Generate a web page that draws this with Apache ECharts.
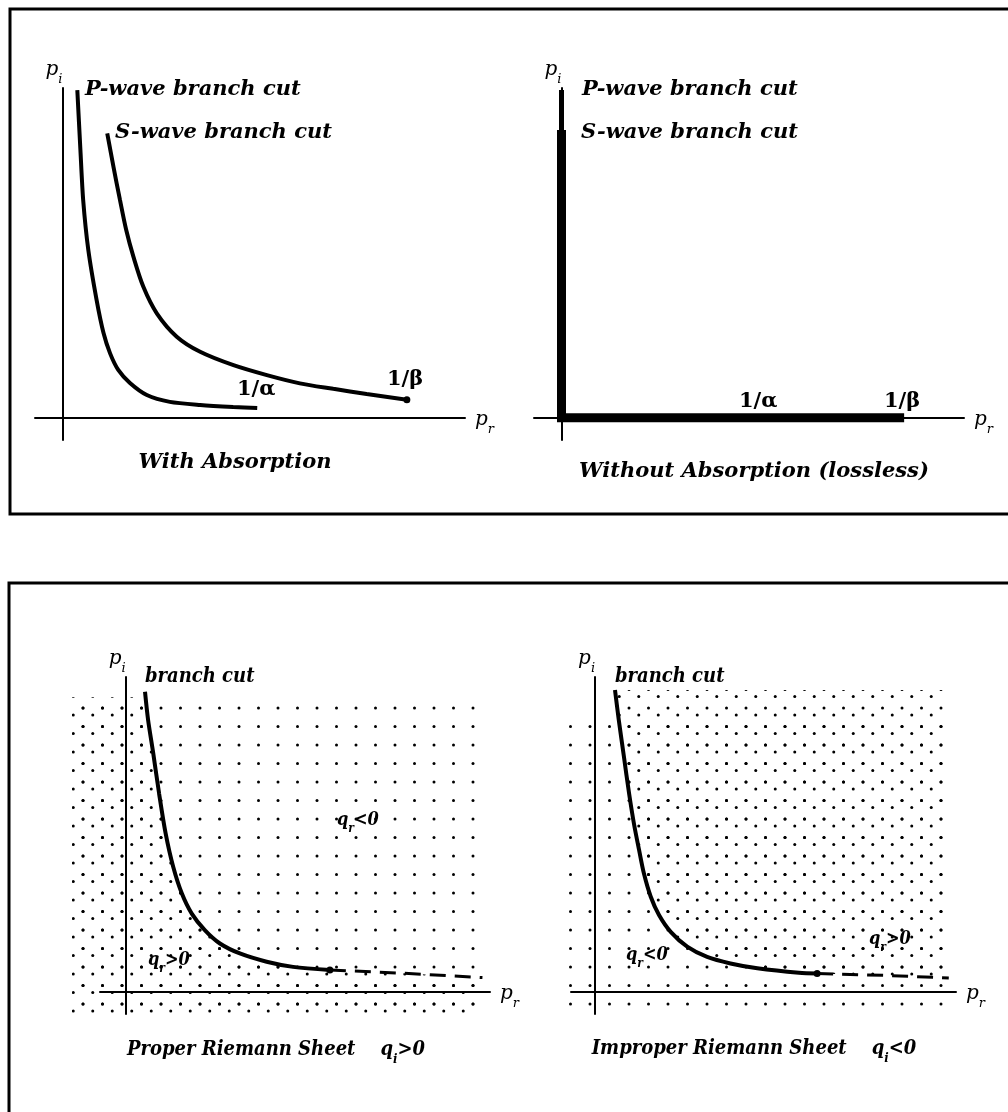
<!DOCTYPE html>
<html lang="en">
<head>
    <meta charset="UTF-8">
    <title>Branch cuts in the complex p plane</title>
    <script src="https://cdn.jsdelivr.net/npm/echarts@6/dist/echarts.min.js"></script>
</head>
<body style="margin:0;background:#fff">
<div id="main" style="width:1008px;height:1112px"></div>
<script>
    // p_r / p_i in arbitrary units (1/beta = 1)
    // top left: with absorption
    const pWaveAbs = [[0.043, 0.954], [0.052, 0.780], [0.060, 0.634], [0.075, 0.488], [0.099, 0.343],
        [0.119, 0.247], [0.138, 0.188], [0.162, 0.139], [0.196, 0.101], [0.245, 0.066],
        [0.312, 0.046], [0.400, 0.037], [0.496, 0.031], [0.566, 0.028]];
    const sWaveAbs = [[0.130, 0.828], [0.148, 0.731], [0.167, 0.634], [0.185, 0.547], [0.206, 0.469],
        [0.235, 0.381], [0.274, 0.304], [0.332, 0.236], [0.400, 0.192], [0.497, 0.153],
        [0.594, 0.124], [0.690, 0.100], [0.787, 0.084], [0.884, 0.069], [1.001, 0.052]];
    // top right: lossless, cuts lie on the axes
    const pWaveLossless = [[0, 0.954], [0, 0], [0.577, 0]];
    const sWaveLossless = [[0, 0.838], [0, 0], [0.996, 0]];
    // bottom left: proper sheet
    const cutProper = [[0.056, 0.872], [0.065, 0.790], [0.080, 0.693], [0.097, 0.576], [0.116, 0.460],
        [0.138, 0.363], [0.163, 0.286], [0.192, 0.227], [0.230, 0.179], [0.274, 0.140],
        [0.332, 0.111], [0.410, 0.087], [0.487, 0.072], [0.594, 0.063]];
    const cutProperDash = [[0.594, 0.063], [0.797, 0.054], [1.038, 0.041]];
    // bottom right: improper sheet
    const cutImproper = [[0.058, 0.877], [0.069, 0.790], [0.084, 0.683], [0.099, 0.576], [0.113, 0.489],
        [0.128, 0.412], [0.142, 0.344], [0.162, 0.276], [0.186, 0.223], [0.220, 0.174],
        [0.268, 0.131], [0.326, 0.101], [0.394, 0.082], [0.472, 0.068], [0.593, 0.055], [0.646, 0.053]];
    const cutImproperDash = [[0.646, 0.053], [0.850, 0.047], [1.029, 0.040]];

    // dotted regions (sign of q_r)
    const sparseProper = [[-0.156, 0.862], [1.021, 0.862]];
    const denseProper = [[-0.156, 0.856], [0.050, 0.856]].concat(cutProper, cutProperDash.slice(1, 2), [[1.021, 0.041]]);
    const sparseImproper = [[-0.122, 0.810], [1.020, 0.810]];
    const denseImproper = cutImproper.concat(cutImproperDash.slice(1, 2), [[1.020, 0.041]]);

    const xRanges = [[-0.08, 1.17], [-0.08, 1.17], [-0.075, 1.06], [-0.07, 1.05], [-0.156, 1.06], [-0.1223, 1.05]];
    const yRanges = [[-0.065, 0.96], [-0.065, 0.96], [-0.065, 0.915], [-0.065, 0.915], [-0.065, 0.915], [-0.065, 0.915]];

    const serif = 'DejaVu Serif';
    const serifNarrow = 'DejaVu Serif Condensed';

    function dotTile(dense) {
        const c = document.createElement('canvas');
        c.width = 39;
        c.height = 37;
        const g = c.getContext('2d');
        g.fillStyle = '#000';
        const pts = [[5, 5], [24.5, 5], [5, 23.5], [24.5, 23.5]];
        if (dense) pts.push([14.75, 12], [34.25, 12], [14.75, 30.5], [34.25, 30.5]);
        pts.forEach(p => {
            g.beginPath();
            g.arc(p[0], p[1], 1.5, 0, Math.PI * 2);
            g.fill();
        });
        return c;
    }
    const sparseTile = dotTile(false);
    const denseTile = dotTile(true);

    // 0-3 visible plots, 4-5 hidden frames (same scale) for the dot fields
    const grids = [
        {left: 35, top: 88, width: 430, height: 352},
        {left: 534, top: 88, width: 430, height: 352},
        {left: 100, top: 677, width: 390, height: 337},
        {left: 571, top: 677, width: 385, height: 337},
        {left: 72, top: 677, width: 418, height: 337},
        {left: 553, top: 677, width: 403, height: 337}
    ];

    const subRich = {
        p: {fontFamily: serif, fontStyle: 'italic', fontSize: 20, lineHeight: 26, verticalAlign: 'top'},
        s: {fontFamily: serif, fontStyle: 'italic', fontSize: 13, lineHeight: 13, verticalAlign: 'bottom'}
    };

    const xAxes = grids.map((g, i) => i > 3 ? {
        gridIndex: i, type: 'value', min: xRanges[i][0], max: xRanges[i][1], show: false
    } : {
        gridIndex: i, type: 'value', min: xRanges[i][0], max: xRanges[i][1],
        axisLine: {show: true, onZero: true, lineStyle: {color: '#000', width: 2}},
        axisTick: {show: false}, axisLabel: {show: false}, splitLine: {show: false},
        name: '{p|p}{s|r}', nameLocation: 'end', nameGap: 10,
        nameTextStyle: {color: '#000', padding: [10, 0, 0, 0], rich: subRich}
    });
    const yAxes = grids.map((g, i) => i > 3 ? {
        gridIndex: i, type: 'value', min: yRanges[i][0], max: yRanges[i][1], show: false
    } : {
        gridIndex: i, type: 'value', min: yRanges[i][0], max: yRanges[i][1],
        axisLine: {show: true, onZero: true, lineStyle: {color: '#000', width: 2}},
        axisTick: {show: false}, axisLabel: {show: false}, splitLine: {show: false},
        name: '{p|p}{s|i}', nameLocation: 'end', nameGap: 2,
        nameTextStyle: {color: '#000', align: 'right', rich: subRich}
    });

    function curve(i, data, width, extra) {
        return Object.assign({
            type: 'line', xAxisIndex: i, yAxisIndex: i, data: data, symbol: 'none',
            smooth: 0.3, silent: true, z: 3,
            itemStyle: {color: '#000'},
            lineStyle: {color: '#000', width: width}
        }, extra || {});
    }
    function dots(i, data, tile, origin) {
        return {
            type: 'line', xAxisIndex: i, yAxisIndex: i, data: data, symbol: 'none',
            silent: true, z: 1,
            lineStyle: {width: 0, opacity: 0},
            areaStyle: {color: {image: tile, repeat: 'repeat'}, opacity: 1, origin: origin}
        };
    }
    function withEndDot(data) {
        const d = data.slice(0, -1);
        d.push({value: data[data.length - 1], symbol: 'circle', symbolSize: 7});
        return d;
    }

    const series = [
        curve(0, pWaveAbs, 4, {smooth: 0.25}),
        curve(0, withEndDot(sWaveAbs), 4),
        curve(1, sWaveLossless, 9, {smooth: false, lineStyle: {color: '#000', width: 9, join: 'miter'}}),
        curve(1, pWaveLossless, 5, {smooth: false}),
        dots(4, sparseProper, sparseTile, 'start'),
        dots(4, denseProper, denseTile, 'start'),
        curve(2, withEndDot(cutProper), 4),
        curve(2, cutProperDash, 3, {smooth: false, lineStyle: {color: '#000', width: 3, type: [16, 9]}}),
        dots(5, sparseImproper, sparseTile, 'start'),
        dots(5, denseImproper, denseTile, 0.877),
        curve(3, withEndDot(cutImproper), 4),
        curve(3, cutImproperDash, 3, {smooth: false, lineStyle: {color: '#000', width: 3, type: [16, 9]}})
    ];

    function txt(x, y, text, opts) {
        return {
            type: 'text', x: x, y: y, z: 10, silent: true,
            style: Object.assign({
                text: text, fill: '#000', fontFamily: serif, fontSize: 21,
                fontWeight: 'bold', fontStyle: 'italic', align: 'left', verticalAlign: 'middle'
            }, opts || {})
        };
    }
    function qStyle(size) {
        const base = {fontFamily: serifNarrow, fontStyle: 'italic', fontWeight: 'bold'};
        return {
            fontFamily: serifNarrow, fontSize: size,
            rich: {
                q: Object.assign({fontSize: size, lineHeight: size + 6, verticalAlign: 'top'}, base),
                s: Object.assign({fontSize: Math.round(size * 0.65), lineHeight: Math.round(size * 0.65), verticalAlign: 'bottom'}, base),
                t: Object.assign({fontSize: size, lineHeight: size + 6, verticalAlign: 'top'}, base)
            }
        };
    }
    const qLabel = qStyle(18);
    const caption = Object.assign({align: 'center'}, qStyle(20));

    const graphic = [
        {type: 'rect', shape: {x: 10, y: 9, width: 1010, height: 505}, style: {fill: 'none', stroke: '#000', lineWidth: 3}},
        {type: 'rect', shape: {x: 9, y: 583, width: 1012, height: 545}, style: {fill: 'none', stroke: '#000', lineWidth: 3}},
        txt(85, 90, 'P-wave branch cut'),
        txt(115, 133, 'S-wave branch cut'),
        txt(237, 390, '1/α', {fontStyle: 'normal'}),
        txt(387, 380, '1/β', {fontStyle: 'normal'}),
        txt(235, 463, 'With Absorption', {align: 'center'}),
        txt(582, 90, 'P-wave branch cut'),
        txt(581, 133, 'S-wave branch cut'),
        txt(739, 402, '1/α', {fontStyle: 'normal'}),
        txt(884, 402, '1/β', {fontStyle: 'normal'}),
        txt(754, 472, 'Without Absorption (lossless)', {align: 'center'}),
        txt(145, 677, 'branch cut', {fontFamily: serifNarrow, fontSize: 20}),
        txt(337, 823, '{q|q}{s|r}{t|<0}', qLabel),
        txt(148, 963, '{q|q}{s|r}{t|>0}', qLabel),
        txt(276, 1053, '{t|Proper Riemann Sheet    }{q|q}{s|i}{t|>0}', caption),
        txt(615, 677, 'branch cut', {fontFamily: serifNarrow, fontSize: 20}),
        txt(869, 942, '{q|q}{s|r}{t|>0}', qLabel),
        txt(626, 958, '{q|q}{s|r}{t|<0}', qLabel),
        txt(754, 1052, '{t|Improper Riemann Sheet    }{q|q}{s|i}{t|<0}', caption)
    ];

    const chart = echarts.init(document.getElementById('main'));
    chart.setOption({
        animation: false,
        backgroundColor: '#fff',
        grid: grids,
        xAxis: xAxes,
        yAxis: yAxes,
        series: series,
        graphic: graphic
    });
</script>
</body>
</html>
